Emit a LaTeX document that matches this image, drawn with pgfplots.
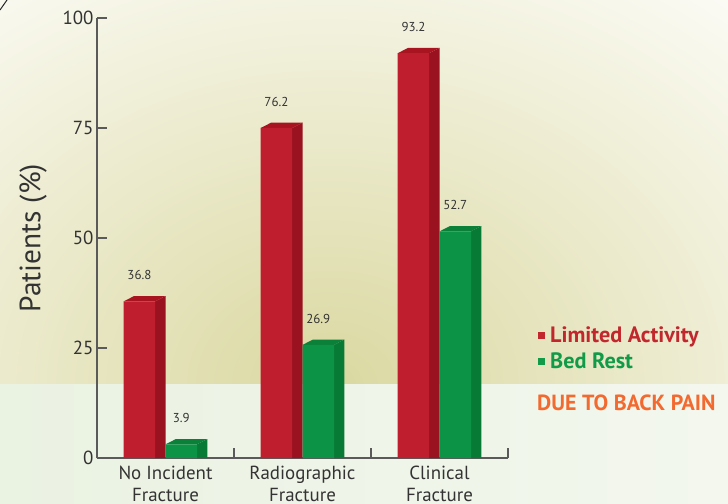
\documentclass[border=0pt]{standalone}
\usepackage{pgfplots}
\pgfplotsset{compat=1.18}
\usepackage{fontspec}
\setmainfont{PT Sans}
\definecolor{redF}{HTML}{BE1E2D}
\definecolor{redS}{HTML}{9A1220}
\definecolor{redT}{HTML}{A8141F}
\definecolor{grnF}{HTML}{0C9346}
\definecolor{grnS}{HTML}{077A35}
\definecolor{grnT}{HTML}{0A8039}
\definecolor{axisgray}{HTML}{5A5A5A}
\definecolor{txt}{HTML}{333333}
\definecolor{glow}{HTML}{DAD8A0}
\definecolor{bandL}{HTML}{EAF2E2}
\definecolor{bandR}{HTML}{F3F7EE}
\definecolor{orangeT}{HTML}{F26A30}
\definecolor{legRed}{HTML}{C1272D}
\definecolor{legGrn}{HTML}{119A48}
\begin{document}
\begin{tikzpicture}
\useasboundingbox (0,0) rectangle (728bp,504bp);
% background
\fill[white] (0,0) rectangle (728bp,504bp);
\begin{scope}
\clip (0,119bp) rectangle (728bp,504bp);
\shade[inner color=glow, outer color=white] (330bp,119bp) ellipse (700bp and 560bp);
\end{scope}
\shade[left color=bandL, right color=bandR] (0,0) rectangle (728bp,119bp);
\draw[black!85, line width=1bp] (0,494bp) -- (7bp,504bp);
\begin{axis}[
  at={(97bp,46bp)}, anchor=south west,
  scale only axis, width=411bp, height=440bp,
  xmin=-0.5, xmax=2.5, ymin=0, ymax=100,
  clip=false,
  axis x line*=bottom, axis y line*=left,
  axis line style={axisgray, line width=1.3bp},
  tick style={axisgray, line width=1.3bp},
  tick align=inside, major tick length=10bp,
  ytick={0,25,50,75,100},
  xtick={0.5,1.5,2.5}, xticklabels={},
  extra x ticks={0,1,2},
  extra x tick labels={No Incident\\Fracture, Radiographic\\Fracture, Clinical\\Fracture},
  extra x tick style={major tick length=0pt},
  /pgf/number format/assume math mode=true,
  ticklabel style={font=\fontsize{19}{22}\selectfont, text=txt},
  xticklabel style={align=center, yshift=-5bp},
  every axis y label/.style={at={(axis description cs:-0.1557,0.5)}, rotate=90, anchor=center},
  ylabel={Patients (\%)},
  ylabel style={font=\fontsize{29.5}{32}\selectfont, text=txt},
  nodes near coords style={font=\fontsize{13}{15}\selectfont, text=txt, yshift=18bp},
  legend style={at={(axis description cs:1.073,0.249)}, anchor=west, draw=none, fill=none,
    inner sep=0pt, font=\fontsize{22.3}{26}\selectfont, row sep=5bp,
    /tikz/every odd column/.append style={column sep=3bp}},
  legend cell align=left,
]
% red side faces
\addplot[forget plot, fill=redS, draw=none] coordinates {(-0.075,0) (0,0) (0,36.8) (-0.075,35.6)};
\addplot[forget plot, fill=redS, draw=none] coordinates {(0.925,0) (1,0) (1,76.2) (0.925,75.0)};
\addplot[forget plot, fill=redS, draw=none] coordinates {(1.925,0) (2,0) (2,93.2) (1.925,92.0)};
% red top faces
\addplot[forget plot, fill=redT, draw=none] coordinates {(-0.305,35.6) (-0.075,35.6) (0,36.8) (-0.23,36.8)};
\addplot[forget plot, fill=redT, draw=none] coordinates {(0.695,75.0) (0.925,75.0) (1,76.2) (0.77,76.2)};
\addplot[forget plot, fill=redT, draw=none] coordinates {(1.695,92.0) (1.925,92.0) (2,93.2) (1.77,93.2)};
% green side faces
\addplot[forget plot, fill=grnS, draw=none] coordinates {(0.23,0) (0.305,0) (0.305,4.3) (0.23,3.1)};
\addplot[forget plot, fill=grnS, draw=none] coordinates {(1.23,0) (1.305,0) (1.305,26.9) (1.23,25.7)};
\addplot[forget plot, fill=grnS, draw=none] coordinates {(2.23,0) (2.305,0) (2.305,52.7) (2.23,51.5)};
% green top faces
\addplot[forget plot, fill=grnT, draw=none] coordinates {(0,3.1) (0.23,3.1) (0.305,4.3) (0.075,4.3)};
\addplot[forget plot, fill=grnT, draw=none] coordinates {(1,25.7) (1.23,25.7) (1.305,26.9) (1.075,26.9)};
\addplot[forget plot, fill=grnT, draw=none] coordinates {(2,51.5) (2.23,51.5) (2.305,52.7) (2.075,52.7)};
% front faces (top edge 1.2 below the value; labels show the value)
\addplot[ybar, bar width=0.23, bar shift=0pt, fill=redF, draw=none,
  point meta=explicit, nodes near coords,
  legend image code/.code={\fill[legRed] (0bp,-3.5bp) rectangle (7bp,3.5bp);}]
  coordinates {(-0.19,35.6) [36.8] (0.81,75.0) [76.2] (1.81,92.0) [93.2]};
\addlegendentry{\textcolor{legRed}{\bfseries Limited Activity}}
\addplot[ybar, bar width=0.23, bar shift=0pt, fill=grnF, draw=none,
  point meta=explicit, nodes near coords,
  legend image code/.code={\fill[legGrn] (0bp,-3.5bp) rectangle (7bp,3.5bp);}]
  coordinates {(0.115,3.1) [3.9] (1.115,25.7) [26.9] (2.115,51.5) [52.7]};
\addlegendentry{\textcolor{legGrn}{\bfseries Bed Rest}}
\end{axis}
\node[anchor=west, inner sep=0pt, text=orangeT, font=\fontsize{22}{26}\selectfont\bfseries] at (537bp,101bp) {DUE TO BACK PAIN};
\end{tikzpicture}
\end{document}
